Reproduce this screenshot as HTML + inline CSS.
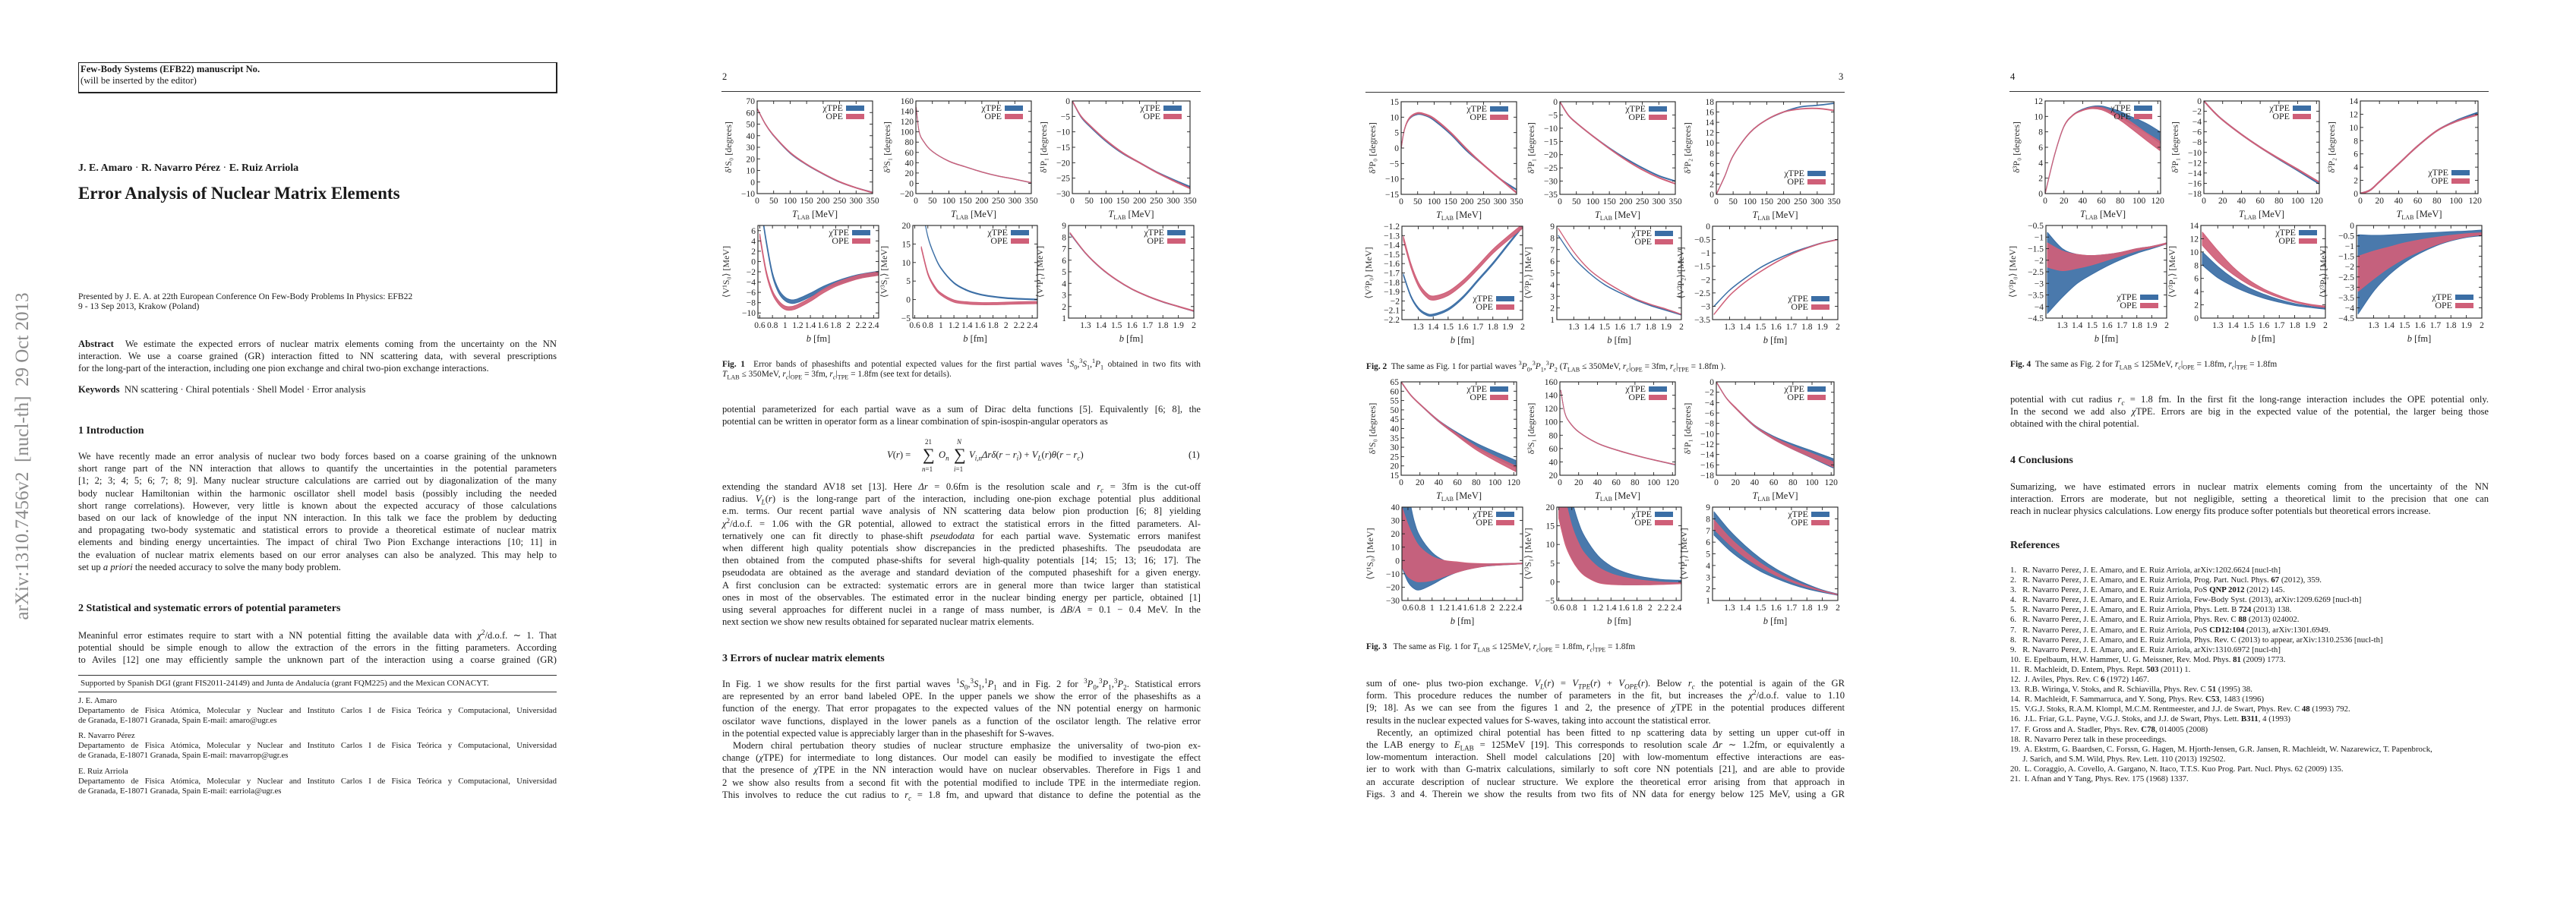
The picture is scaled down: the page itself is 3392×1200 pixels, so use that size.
<!DOCTYPE html>
<html><head><meta charset="utf-8">
<style>
html,body{margin:0;padding:0;background:#fff;}
body{width:3392px;height:1200px;position:relative;overflow:hidden;font-family:"Liberation Serif",serif;color:#1a1a1a;}
sup,sub{line-height:0;font-size:0.72em;}
.p{position:absolute;width:630px;}
.l{height:16.2px;line-height:16.2px;font-size:12.6px;white-space:nowrap;text-align:justify;text-align-last:justify;overflow:visible;}
.l.e{text-align-last:left;}
.l.i{text-indent:14px;}
.s{font-size:10.8px;height:13.1px;line-height:13.1px;}
.h{position:absolute;font-weight:bold;font-size:14px;white-space:nowrap;}
.cap{font-size:11.4px;height:13px;line-height:13px;}
.abs{position:absolute;white-space:nowrap;}
svg{position:absolute;left:0;top:0;}
</style></head>
<body>

<!-- PAGE 1 -->
<div class="abs" style="left:30px;top:601px;transform:translate(-50%,-50%) rotate(-90deg);font-size:25px;color:#8a8a8a;">arXiv:1310.7456v2&nbsp; [nucl-th]&nbsp; 29 Oct 2013</div>
<div style="position:absolute;left:103px;top:82px;width:624px;height:36px;border:1px solid #222;border-right-width:2px;border-bottom-width:2px;padding:1px 2px;font-size:12.6px;line-height:15px;">
<b>Few-Body Systems (EFB22) manuscript No.</b><br>(will be inserted by the editor)</div>
<div class="abs" style="left:103px;top:214px;font-size:14px;font-weight:bold;">J. E. Amaro <span style="font-weight:normal">·</span> R. Navarro Pérez <span style="font-weight:normal">·</span> E. Ruiz Arriola</div>
<div class="abs" style="left:103px;top:242px;font-size:23px;font-weight:bold;">Error Analysis of Nuclear Matrix Elements</div>
<div class="abs" style="left:103px;top:384px;font-size:11.6px;line-height:13px;">Presented by J. E. A. at 22th European Conference On Few-Body Problems In Physics: EFB22<br>9 - 13 Sep 2013, Krakow (Poland)</div>
<div class="p" style="left:103px;top:445px;">
<div class="l"><b>Abstract</b>&nbsp; We estimate the expected errors of nuclear matrix elements coming from the uncertainty on the NN</div>
<div class="l">interaction. We use a coarse grained (GR) interaction fitted to NN scattering data, with several prescriptions</div>
<div class="l e">for the long-part of the interaction, including one pion exchange and chiral two-pion exchange interactions.</div>
</div>
<div class="p" style="left:103px;top:505px;"><div class="l e"><b>Keywords</b>&nbsp; NN scattering · Chiral potentials · Shell Model · Error analysis</div></div>
<div class="h" style="left:103px;top:560px;">1 Introduction</div>
<div class="p" style="left:103px;top:593px;">
<div class="l">We have recently made an error analysis of nuclear two body forces based on a coarse graining of the unknown</div>
<div class="l">short range part of the NN interaction that allows to quantify the uncertainties in the potential parameters</div>
<div class="l">[1; 2; 3; 4; 5; 6; 7; 8; 9]. Many nuclear structure calculations are carried out by diagonalization of the many</div>
<div class="l">body nuclear Hamiltonian within the harmonic oscillator shell model basis (possibly including the needed</div>
<div class="l">short range correlations). However, very little is known about the expected accuracy of those calculations</div>
<div class="l">based on our lack of knowledge of the input NN interaction. In this talk we face the problem by deducting</div>
<div class="l">and propagating two-body systematic and statistical errors to provide a theoretical estimate of nuclear matrix</div>
<div class="l">elements and binding energy uncertainties. The impact of chiral Two Pion Exchange interactions [10; 11] in</div>
<div class="l">the evaluation of nuclear matrix elements based on our error analyses can also be analyzed. This may help to</div>
<div class="l e">set up <i>a priori</i> the needed accuracy to solve the many body problem.</div>
</div>
<div class="h" style="left:103px;top:794px;">2 Statistical and systematic errors of potential parameters</div>
<div class="p" style="left:103px;top:829px;">
<div class="l">Meaninful error estimates require to start with a NN potential fitting the available data with <i>χ</i><sup>2</sup>/d.o.f. ∼ 1. That</div>
<div class="l">potential should be simple enough to allow the extraction of the errors in the fitting parameters. According</div>
<div class="l">to Aviles [12] one may efficiently sample the unknown part of the interaction using a coarse grained (GR)</div>
</div>
<div style="position:absolute;left:103px;top:889px;width:630px;border-top:1px solid #333;"></div>
<div class="abs" style="left:106px;top:894px;font-size:11px;">Supported by Spanish DGI (grant FIS2011-24149) and Junta de Andalucía (grant FQM225) and the Mexican CONACYT.</div>
<div style="position:absolute;left:103px;top:911px;width:630px;border-top:1px solid #333;"></div>
<div class="p" style="left:103px;top:917px;font-size:10.8px;">
<div class="l s e">J. E. Amaro</div>
<div class="l s">Departamento de Fisica Atómica, Molecular y Nuclear and Instituto Carlos I de Fisica Teórica y Computacional, Universidad</div>
<div class="l s e">de Granada, E-18071 Granada, Spain E-mail: amaro@ugr.es</div>
<div style="height:7px"></div>
<div class="l s e">R. Navarro Pérez</div>
<div class="l s">Departamento de Fisica Atómica, Molecular y Nuclear and Instituto Carlos I de Fisica Teórica y Computacional, Universidad</div>
<div class="l s e">de Granada, E-18071 Granada, Spain E-mail: rnavarrop@ugr.es</div>
<div style="height:7px"></div>
<div class="l s e">E. Ruiz Arriola</div>
<div class="l s">Departamento de Fisica Atómica, Molecular y Nuclear and Instituto Carlos I de Fisica Teórica y Computacional, Universidad</div>
<div class="l s e">de Granada, E-18071 Granada, Spain E-mail: earriola@ugr.es</div>
</div>

<!-- PAGE 2 -->
<div class="abs" style="left:951px;top:94px;font-size:12.6px;">2</div>
<div style="position:absolute;left:950px;top:120px;width:631px;border-top:1px solid #333;"></div>
<div class="p" style="left:951px;top:474px;">
<div class="l cap"><b>Fig. 1</b>&nbsp; Error bands of phaseshifts and potential expected values for the first partial waves <sup>1</sup><i>S</i><sub>0</sub>,<sup>3</sup><i>S</i><sub>1</sub>,<sup>1</sup><i>P</i><sub>1</sub> obtained in two fits with</div>
<div class="l cap e"><i>T</i><sub>LAB</sub> ≤ 350MeV, <i>r<sub>c</sub></i>|<sub>OPE</sub> = 3fm, <i>r<sub>c</sub></i>|<sub>TPE</sub> = 1.8fm (see text for details).</div>
</div>
<div class="p" style="left:951px;top:531px;">
<div class="l">potential parameterized for each partial wave as a sum of Dirac delta functions [5]. Equivalently [6; 8], the</div>
<div class="l e">potential can be written in operator form as a linear combination of spin-isospin-angular operators as</div>
</div>
<div class="abs" style="left:1168px;top:577px;font-size:12.6px;height:48px;width:420px;">
<span style="position:absolute;left:0;top:15px;"><i>V</i>(<i>r</i>) =</span>
<span style="position:absolute;left:47px;top:9px;font-size:22px;">∑</span>
<span style="position:absolute;left:50px;top:0;font-size:9px;">21</span>
<span style="position:absolute;left:46px;top:36px;font-size:9px;"><i>n</i>=1</span>
<span style="position:absolute;left:68px;top:15px;"><i>O<sub>n</sub></i></span>
<span style="position:absolute;left:88px;top:9px;font-size:22px;">∑</span>
<span style="position:absolute;left:92px;top:0;font-size:9px;"><i>N</i></span>
<span style="position:absolute;left:88px;top:36px;font-size:9px;"><i>i</i>=1</span>
<span style="position:absolute;left:108px;top:15px;"><i>V<sub>i,n</sub></i><i>Δrδ</i>(<i>r</i> − <i>r<sub>i</sub></i>) + <i>V<sub>L</sub></i>(<i>r</i>)<i>θ</i>(<i>r</i> − <i>r<sub>c</sub></i>)</span>
<span style="position:absolute;left:397px;top:15px;">(1)</span>
</div>
<div class="p" style="left:951px;top:633px;">
<div class="l">extending the standard AV18 set [13]. Here <i>Δr</i> = 0.6fm is the resolution scale and <i>r<sub>c</sub></i> = 3fm is the cut-off</div>
<div class="l">radius. <i>V<sub>L</sub></i>(<i>r</i>) is the long-range part of the interaction, including one-pion exchage potential plus additional</div>
<div class="l">e.m. terms. Our recent partial wave analysis of NN scattering data below pion production [6; 8] yielding</div>
<div class="l"><i>χ</i><sup>2</sup>/d.o.f. = 1.06 with the GR potential, allowed to extract the statistical errors in the fitted parameters. Al-</div>
<div class="l">ternatively one can fit directly to phase-shift <i>pseudodata</i> for each partial wave. Systematic errors manifest</div>
<div class="l">when different high quality potentials show discrepancies in the predicted phaseshifts. The pseudodata are</div>
<div class="l">then obtained from the computed phase-shifts for several high-quality potentials [14; 15; 13; 16; 17]. The</div>
<div class="l">pseudodata are obtained as the average and standard deviation of the computed phaseshift for a given energy.</div>
<div class="l">A first conclusion can be extracted: systematic errors are in general more than twice larger than statistical</div>
<div class="l">ones in most of the observables. The estimated error in the nuclear binding energy per particle, obtained [1]</div>
<div class="l">using several approaches for different nuclei in a range of mass number, is <i>ΔB</i>/<i>A</i> = 0.1 − 0.4 MeV. In the</div>
<div class="l e">next section we show new results obtained for separated nuclear matrix elements.</div>
</div>
<div class="h" style="left:951px;top:860px;">3 Errors of nuclear matrix elements</div>
<div class="p" style="left:951px;top:893px;">
<div class="l">In Fig. 1 we show results for the first partial waves <sup>1</sup><i>S</i><sub>0</sub>,<sup>3</sup><i>S</i><sub>1</sub>,<sup>1</sup><i>P</i><sub>1</sub> and in Fig. 2 for <sup>3</sup><i>P</i><sub>0</sub>,<sup>3</sup><i>P</i><sub>1</sub>,<sup>3</sup><i>P</i><sub>2</sub>. Statistical errors</div>
<div class="l">are represented by an error band labeled OPE. In the upper panels we show the error of the phaseshifts as a</div>
<div class="l">function of the energy. That error propagates to the expected values of the NN potential energy on harmonic</div>
<div class="l">oscilator wave functions, displayed in the lower panels as a function of the oscilator length. The relative error</div>
<div class="l e">in the potential expected value is appreciably larger than in the phaseshift for S-waves.</div>
<div class="l i">Modern chiral pertubation theory studies of nuclear structure emphasize the universality of two-pion ex-</div>
<div class="l">change (<i>χ</i>TPE) for intermediate to long distances. Our model can easily be modified to investigate the effect</div>
<div class="l">that the presence of <i>χ</i>TPE in the NN interaction would have on nuclear observables. Therefore in Figs 1 and</div>
<div class="l">2 we show also results from a second fit with the potential modified to include TPE in the intermediate region.</div>
<div class="l">This involves to reduce the cut radius to <i>r<sub>c</sub></i> = 1.8 fm, and upward that distance to define the potential as the</div>
</div>

<!-- PAGE 3 -->
<div class="abs" style="left:2421px;top:94px;font-size:12.6px;">3</div>
<div style="position:absolute;left:1798px;top:121px;width:631px;border-top:1px solid #333;"></div>
<div class="p" style="left:1799px;top:477px;">
<div class="l cap e"><b>Fig. 2</b>&nbsp; The same as Fig. 1 for partial waves <sup>3</sup><i>P</i><sub>0</sub>,<sup>3</sup><i>P</i><sub>1</sub>,<sup>3</sup><i>P</i><sub>2</sub> (<i>T</i><sub>LAB</sub> ≤ 350MeV, <i>r<sub>c</sub></i>|<sub>OPE</sub> = 3fm, <i>r<sub>c</sub></i>|<sub>TPE</sub> = 1.8fm ).</div>
</div>
<div class="p" style="left:1799px;top:846px;">
<div class="l cap e"><b>Fig. 3</b>&nbsp;&nbsp; The same as Fig. 1 for <i>T</i><sub>LAB</sub> ≤ 125MeV, <i>r<sub>c</sub></i>|<sub>OPE</sub> = 1.8fm, <i>r<sub>c</sub></i>|<sub>TPE</sub> = 1.8fm</div>
</div>
<div class="p" style="left:1799px;top:892px;">
<div class="l">sum of one- plus two-pion exchange. <i>V<sub>L</sub></i>(<i>r</i>) = <i>V<sub>TPE</sub></i>(<i>r</i>) + <i>V<sub>OPE</sub></i>(<i>r</i>). Below <i>r<sub>c</sub></i> the potential is again of the GR</div>
<div class="l">form. This procedure reduces the number of parameters in the fit, but increases the <i>χ</i><sup>2</sup>/d.o.f. value to 1.10</div>
<div class="l">[9; 18]. As we can see from the figures 1 and 2, the presence of <i>χ</i>TPE in the potential produces different</div>
<div class="l e">results in the nuclear expected values for S-waves, taking into account the statistical error.</div>
<div class="l i">Recently, an optimized chiral potential has been fitted to np scattering data by setting un upper cut-off in</div>
<div class="l">the LAB energy to <i>E</i><sub>LAB</sub> = 125MeV [19]. This corresponds to resolution scale <i>Δr</i> ∼ 1.2fm, or equivalently a</div>
<div class="l">low-momentum interaction. Shell model calculations [20] with low-momentum effective interactions are eas-</div>
<div class="l">ier to work with than G-matrix calculations, similarly to soft core NN potentials [21], and are able to provide</div>
<div class="l">an accurate description of nuclear structure. We explore the theoretical error arising from that approach in</div>
<div class="l">Figs. 3 and 4. Therein we show the results from two fits of NN data for energy below 125 MeV, using a GR</div>
</div>

<!-- PAGE 4 -->
<div class="abs" style="left:2647px;top:94px;font-size:12.6px;">4</div>
<div style="position:absolute;left:2646px;top:120px;width:631px;border-top:1px solid #333;"></div>
<div class="p" style="left:2647px;top:474px;">
<div class="l cap e"><b>Fig. 4</b>&nbsp; The same as Fig. 2 for <i>T</i><sub>LAB</sub> ≤ 125MeV, <i>r<sub>c</sub></i>|<sub>OPE</sub> = 1.8fm, <i>r<sub>c</sub></i>|<sub>TPE</sub> = 1.8fm</div>
</div>
<div class="p" style="left:2647px;top:518px;">
<div class="l">potential with cut radius <i>r<sub>c</sub></i> = 1.8 fm. In the first fit the long-range interaction includes the OPE potential only.</div>
<div class="l">In the second we add also <i>χ</i>TPE. Errors are big in the expected value of the potential, the larger being those</div>
<div class="l e">obtained with the chiral potential.</div>
</div>
<div class="h" style="left:2647px;top:599px;">4 Conclusions</div>
<div class="p" style="left:2647px;top:633px;">
<div class="l">Sumarizing, we have estimated errors in nuclear matrix elements coming from the uncertainty of the NN</div>
<div class="l">interaction. Errors are moderate, but not negligible, setting a theoretical limit to the precision that one can</div>
<div class="l e">reach in nuclear physics calculations. Low energy fits produce softer potentials but theoretical errors increase.</div>
</div>
<div class="h" style="left:2647px;top:711px;">References</div>
<div class="p" style="left:2647px;top:745px;font-size:10.8px;">
<div class="l s e">1.&nbsp;&nbsp; R. Navarro Perez, J. E. Amaro, and E. Ruiz Arriola, arXiv:1202.6624 [nucl-th]</div>
<div class="l s e">2.&nbsp;&nbsp; R. Navarro Perez, J. E. Amaro, and E. Ruiz Arriola, Prog. Part. Nucl. Phys. <b>67</b> (2012), 359.</div>
<div class="l s e">3.&nbsp;&nbsp; R. Navarro Perez, J. E. Amaro, and E. Ruiz Arriola, PoS <b>QNP 2012</b> (2012) 145.</div>
<div class="l s e">4.&nbsp;&nbsp; R. Navarro Perez, J. E. Amaro, and E. Ruiz Arriola, Few-Body Syst. (2013), arXiv:1209.6269 [nucl-th]</div>
<div class="l s e">5.&nbsp;&nbsp; R. Navarro Perez, J. E. Amaro, and E. Ruiz Arriola, Phys. Lett. B <b>724</b> (2013) 138.</div>
<div class="l s e">6.&nbsp;&nbsp; R. Navarro Perez, J. E. Amaro, and E. Ruiz Arriola, Phys. Rev. C <b>88</b> (2013) 024002.</div>
<div class="l s e">7.&nbsp;&nbsp; R. Navarro Perez, J. E. Amaro, and E. Ruiz Arriola, PoS <b>CD12:104</b> (2013), arXiv:1301.6949.</div>
<div class="l s e">8.&nbsp;&nbsp; R. Navarro Perez, J. E. Amaro, and E. Ruiz Arriola, Phys. Rev. C (2013) to appear, arXiv:1310.2536 [nucl-th]</div>
<div class="l s e">9.&nbsp;&nbsp; R. Navarro Perez, J. E. Amaro, and E. Ruiz Arriola, arXiv:1310.6972 [nucl-th]</div>
<div class="l s e">10.&nbsp; E. Epelbaum, H.W. Hammer, U. G. Meissner, Rev. Mod. Phys. <b>81</b> (2009) 1773.</div>
<div class="l s e">11.&nbsp; R. Machleidt, D. Entem, Phys. Rept. <b>503</b> (2011) 1.</div>
<div class="l s e">12.&nbsp; J. Aviles, Phys. Rev. C <b>6</b> (1972) 1467.</div>
<div class="l s e">13.&nbsp; R.B. Wiringa, V. Stoks, and R. Schiavilla, Phys. Rev. C <b>51</b> (1995) 38.</div>
<div class="l s e">14.&nbsp; R. Machleidt, F. Sammarruca, and Y. Song, Phys. Rev. <b>C53</b>, 1483 (1996)</div>
<div class="l s e">15.&nbsp; V.G.J. Stoks, R.A.M. Klompl, M.C.M. Rentmeester, and J.J. de Swart, Phys. Rev. C <b>48</b> (1993) 792.</div>
<div class="l s e">16.&nbsp; J.L. Friar, G.L. Payne, V.G.J. Stoks, and J.J. de Swart, Phys. Lett. <b>B311</b>, 4 (1993)</div>
<div class="l s e">17.&nbsp; F. Gross and A. Stadler, Phys. Rev. <b>C78</b>, 014005 (2008)</div>
<div class="l s e">18.&nbsp; R. Navarro Perez talk in these proceedings.</div>
<div class="l s e">19.&nbsp; A. Ekstrm, G. Baardsen, C. Forssn, G. Hagen, M. Hjorth-Jensen, G.R. Jansen, R. Machleidt, W. Nazarewicz, T. Papenbrock,</div>
<div class="l s e">&nbsp;&nbsp;&nbsp;&nbsp;&nbsp; J. Sarich, and S.M. Wild, Phys. Rev. Lett. 110 (2013) 192502.</div>
<div class="l s e">20.&nbsp; L. Coraggio, A. Covello, A. Gargano, N. Itaco, T.T.S. Kuo Prog. Part. Nucl. Phys. 62 (2009) 135.</div>
<div class="l s e">21.&nbsp; I. Afnan and Y Tang, Phys. Rev. 175 (1968) 1337.</div>
</div>

<svg id="charts" width="3392" height="1200" xmlns="http://www.w3.org/2000/svg"></svg>

<script>
// ===== DATA: Fig 1 (T_LAB <= 350 MeV, OPE/TPE) =====
const f1a_T=[1,25,50,100,150,200,250,300,350];
const f1a_tpe=[63,50,40,25,15,7,0,-5,-9];
const f1a_ope=[63,50,40.3,25.5,15.3,7.2,0.2,-5,-9.2];
const f1b_T=[1,10,25,50,100,150,200,250,300,350];
const f1b_tpe=[147,100,80,62,43,32,22,14,8,1];
const f1b_ope=[147,100,80,62,43,32,22,14,8,1.3];
const f1c_T=[0,25,50,100,150,200,250,300,350];
const f1c_tpe=[0,-5,-8,-13,-17,-20,-23,-25.5,-27.8];
const f1c_ope=[0,-4.8,-7.7,-12.7,-16.8,-20,-23.1,-25.8,-28.3];
const f1d_b=[0.6,0.7,0.8,0.9,1.0,1.1,1.2,1.4,1.6,1.8,2.0,2.2,2.5];
const f1d_tpe=[12,4,-2.5,-5.8,-7.3,-7.8,-7.6,-6.5,-5.2,-4.2,-3.4,-2.8,-2.2];
const f1d_ope=[5,-2,-6,-8,-9,-9.1,-8.7,-7.4,-5.8,-4.5,-3.6,-2.9,-2.3];
const f1e_b=[0.7,0.8,0.9,1.0,1.2,1.4,1.6,1.8,2.0,2.2,2.5];
const f1e_tpe=[26,17,12,8.5,4.5,2.5,1.4,0.8,0.4,0.2,0];
const f1e_ope=[14,7,3.5,1.5,-0.4,-0.9,-1.1,-1.1,-1.0,-0.9,-0.8];
const f1f_b=[1.2,1.3,1.4,1.5,1.6,1.7,1.8,1.9,2.0];
const f1f_tpe=[8.3,6.6,5.3,4.3,3.5,2.9,2.4,2.0,1.6];
const f1f_ope=[8.35,6.62,5.32,4.31,3.51,2.9,2.41,2.0,1.62];
// ===== DATA: Fig 2 =====
const f2a_T=[0,10,25,50,75,100,150,200,250,300,350];
const f2a_tpe=[0,6,9.5,11,10.5,9,4.5,-1,-5.5,-10,-13.5];
const f2a_ope=[0,6,9.7,11.3,10.8,9.5,5,-0.5,-5.5,-10,-14.5];
const f2b_T=[0,25,50,100,150,200,250,300,350];
const f2b_tpe=[0,-5,-8,-13,-17.5,-21.5,-25,-28,-30];
const f2b_ope=[0,-5,-8,-13,-17.7,-22,-25.7,-28.7,-31];
const f2c_T=[0,25,50,100,150,200,250,300,350];
const f2c_tpe=[0,3.5,7.5,12,14.5,16,17,17.3,17.7];
const f2c_ope=[0,3.5,7.5,12,14.5,16,16.6,16.7,16.3];
const f2d_b=[1.2,1.25,1.3,1.35,1.4,1.5,1.6,1.7,1.8,1.9,2.0];
const f2d_tpe=[-1.72,-1.95,-2.08,-2.14,-2.15,-2.09,-1.96,-1.78,-1.6,-1.4,-1.2];
const f2d_ope=[-1.33,-1.62,-1.82,-1.93,-1.97,-1.92,-1.8,-1.64,-1.47,-1.33,-1.2];
const f2e_b=[1.2,1.3,1.4,1.5,1.6,1.7,1.8,1.9,2.0];
const f2e_tpe=[8.2,6.3,5.0,4.0,3.3,2.7,2.2,1.8,1.4];
const f2e_ope=[8.8,6.8,5.3,4.3,3.5,2.8,2.3,1.9,1.45];
const f2f_b=[1.2,1.3,1.4,1.5,1.6,1.7,1.8,1.9,2.0];
const f2f_tpe=[-3.0,-2.4,-1.95,-1.55,-1.25,-1.0,-0.8,-0.62,-0.5];
const f2f_ope=[-3.3,-2.6,-2.1,-1.7,-1.35,-1.05,-0.82,-0.63,-0.5];
// ===== DATA: Fig 3 (T_LAB <= 125 MeV) =====
const f3a_T=[0,10,20,40,60,80,100,122];
const f3a_tpe=[65,58,53,44,37,31,26,21];
const f3a_tpeErr=[0.2,0.2,0.2,0.4,0.8,1.2,1.6,2];
const f3a_ope=[65,58,53,44,36.5,29.5,24,18.5];
const f3a_opeErr=[0.2,0.2,0.2,0.3,0.6,0.9,1.2,1.5];
const f3b_T=[1,5,10,20,40,60,80,100,122];
const f3b_tpe=[147,115,100,85,68,58,50,43,36];
const f3b_ope=[147,115,100,85,68,58,50,43,36.3];
const f3c_T=[0,10,20,40,60,80,100,122];
const f3c_tpe=[0,-3,-5,-8.5,-10.8,-12.5,-14,-15.7];
const f3c_tpeErr=[0.05,0.05,0.1,0.15,0.3,0.5,0.7,0.9];
const f3c_ope=[0,-3,-5,-8.5,-10.9,-12.7,-14.2,-15.9];
const f3c_opeErr=[0.05,0.05,0.1,0.1,0.2,0.3,0.4,0.5];
const f3d_b=[0.5,0.6,0.7,0.8,1.0,1.2,1.4,1.6,1.8,2.0,2.5];
const f3d_tpeHi=[60,50,30,18,6,0,-2,-2.5,-2.5,-2.5,-2];
const f3d_tpeLo=[-5,-16,-21,-22,-18,-13,-9,-6.5,-4.8,-3.8,-2.5];
const f3d_opeHi=[40,27,17,10,3,0,-1,-2,-2.3,-2.5,-2];
const f3d_opeLo=[-5,-12,-15,-16,-15,-12,-9,-6.5,-4.8,-3.7,-2.5];
const f3e_b=[0.6,0.7,0.8,0.9,1.0,1.2,1.4,1.6,1.8,2.0,2.2,2.5];
const f3e_tpeHi=[40,30,22,16,12,7,4.2,2.6,1.6,1.0,0.6,0.4];
const f3e_tpeLo=[18,11,6.5,3.5,1.8,0,-0.6,-0.8,-0.8,-0.7,-0.6,-0.4];
const f3e_opeHi=[30,22,15,10.5,7.5,4,2.2,1.2,0.6,0.2,-0.1,-0.3];
const f3e_opeLo=[17,10,6,3.3,1.6,-0.2,-0.7,-0.8,-0.8,-0.8,-0.7,-0.5];
const f3f_b=[1.2,1.3,1.4,1.5,1.6,1.7,1.8,1.9,2.0];
const f3f_tpeHi=[8.6,7.0,5.7,4.6,3.7,3.0,2.4,1.9,1.55];
const f3f_tpeLo=[6.6,5.3,4.3,3.5,2.9,2.4,2.0,1.7,1.45];
const f3f_opeHi=[7.9,6.4,5.2,4.2,3.4,2.75,2.25,1.85,1.52];
const f3f_opeLo=[7.1,5.8,4.7,3.85,3.15,2.6,2.15,1.78,1.48];
// ===== DATA: Fig 4 =====
const f4a_T=[0,10,20,30,40,50,60,70,80,90,100,110,122];
const f4a_tpe=[0,5,8.7,10.2,10.9,11.2,11.2,10.8,10.3,9.6,9.0,8.3,7.3];
const f4a_tpeErr=[0.05,0.05,0.05,0.05,0.05,0.1,0.15,0.25,0.35,0.45,0.55,0.65,0.75];
const f4a_ope=[0,5,8.7,10.2,10.8,11.1,11.0,10.5,9.8,9.0,8.1,7.2,6.2];
const f4a_opeErr=[0.05,0.05,0.05,0.05,0.05,0.1,0.15,0.2,0.3,0.4,0.45,0.5,0.6];
const f4b_T=[0,10,20,40,60,80,100,122];
const f4b_tpe=[0,-2,-3.7,-6.5,-9,-11.3,-13.5,-16];
const f4b_ope=[0,-2,-3.7,-6.5,-9,-11.2,-13.3,-15.7];
const f4c_T=[0,10,20,40,60,80,100,122];
const f4c_tpe=[0,0.5,1.8,4.5,7.2,9.5,11,12.2];
const f4c_ope=[0,0.5,1.8,4.5,7.2,9.5,10.9,11.9];
const f4d_b=[1.2,1.3,1.4,1.5,1.6,1.7,1.8,1.9,2.0];
const f4d_tpeHi=[-0.8,-1.5,-1.75,-1.8,-1.75,-1.65,-1.5,-1.4,-1.25];
const f4d_tpeLo=[-4.3,-3.6,-3.0,-2.6,-2.25,-1.95,-1.7,-1.5,-1.3];
const f4d_opeHi=[-1.25,-1.6,-1.75,-1.8,-1.75,-1.65,-1.5,-1.4,-1.25];
const f4d_opeLo=[-2.3,-2.45,-2.35,-2.2,-2.0,-1.8,-1.6,-1.45,-1.3];
const f4e_b=[1.2,1.3,1.4,1.5,1.6,1.7,1.8,1.9,2.0];
const f4e_tpeHi=[10,7.8,6.0,4.6,3.6,2.8,2.2,1.8,1.5];
const f4e_tpeLo=[8,6.1,4.8,3.8,3.0,2.4,1.9,1.6,1.35];
const f4e_opeHi=[13,10.2,7.7,5.8,4.4,3.4,2.6,2.1,1.8];
const f4e_opeLo=[11,8.5,6.6,5.1,4.0,3.1,2.4,1.9,1.6];
const f4f_b=[1.2,1.3,1.4,1.5,1.6,1.7,1.8,1.9,2.0];
const f4f_tpeHi=[-0.45,-0.48,-0.46,-0.42,-0.38,-0.34,-0.3,-0.27,-0.22];
const f4f_tpeLo=[-4.3,-3.2,-2.4,-1.8,-1.35,-1.0,-0.75,-0.58,-0.5];
const f4f_opeHi=[-1.5,-1.25,-1.05,-0.85,-0.7,-0.58,-0.48,-0.4,-0.35];
const f4f_opeLo=[-3.2,-2.6,-2.05,-1.6,-1.25,-0.95,-0.72,-0.55,-0.45];
// ===== tick labels =====
const ticksT350=[0,50,100,150,200,250,300,350];
const ticksT120=[0,20,40,60,80,100,120];
const ticksBwide=[0.6,0.8,1,1.2,1.4,1.6,1.8,2,2.2,2.4];
const ticksBnarrow=[1.3,1.4,1.5,1.6,1.7,1.8,1.9,2];
const yt_f1a=[-10,0,10,20,30,40,50,60,70];
const yt_f1b=[-20,0,20,40,60,80,100,120,140,160];
const yt_f1c=[-30,-25,-20,-15,-10,-5,0];
const yt_f1d=[-10,-8,-6,-4,-2,0,2,4,6];
const yt_f1e=[-5,0,5,10,15,20];
const yt_f1f=[1,2,3,4,5,6,7,8,9];
const yt_f2a=[-15,-10,-5,0,5,10,15];
const yt_f2b=[-35,-30,-25,-20,-15,-10,-5,0];
const yt_f2c=[0,2,4,6,8,10,12,14,16,18];
const yt_f2d=[-2.2,-2.1,-2,-1.9,-1.8,-1.7,-1.6,-1.5,-1.4,-1.3,-1.2];
const yt_f2e=[1,2,3,4,5,6,7,8,9];
const yt_f2f=[-3.5,-3,-2.5,-2,-1.5,-1,-0.5,0];
const yt_f3a=[15,20,25,30,35,40,45,50,55,60,65];
const yt_f3b=[20,40,60,80,100,120,140,160];
const yt_f3c=[-18,-16,-14,-12,-10,-8,-6,-4,-2,0];
const yt_f3d=[-30,-20,-10,0,10,20,30,40];
const yt_f3e=[-5,0,5,10,15,20];
const yt_f3f=[1,2,3,4,5,6,7,8,9];
const yt_f4a=[0,2,4,6,8,10,12];
const yt_f4b=[-18,-16,-14,-12,-10,-8,-6,-4,-2,0];
const yt_f4c=[0,2,4,6,8,10,12,14];
const yt_f4d=[-4.5,-4,-3.5,-3,-2.5,-2,-1.5,-1,-0.5];
const yt_f4e=[0,2,4,6,8,10,12,14];
const yt_f4f=[-4.5,-4,-3.5,-3,-2.5,-2,-1.5,-1,-0.5,0];

const NS='http://www.w3.org/2000/svg';
const svg=document.getElementById('charts');
const BLUE='#3b6ea5', RED='#cf5f78';
function mk(tag,attrs,parent){const e=document.createElementNS(NS,tag);for(const k in attrs)e.setAttribute(k,attrs[k]);(parent||svg).appendChild(e);return e;}
function fromErr(v,e){return {hi:v.map((a,i)=>a+(Array.isArray(e)?e[i]:e)),lo:v.map((a,i)=>a-(Array.isArray(e)?e[i]:e))};}
function smooth(pts,start){
  let d=start?('M'+pts[0][0].toFixed(2)+' '+pts[0][1].toFixed(2)):('L'+pts[0][0].toFixed(2)+' '+pts[0][1].toFixed(2));
  for(let i=0;i<pts.length-1;i++){
    const p0=pts[Math.max(0,i-1)],p1=pts[i],p2=pts[i+1],p3=pts[Math.min(pts.length-1,i+2)];
    const c1=[p1[0]+(p2[0]-p0[0])/6,p1[1]+(p2[1]-p0[1])/6];
    const c2=[p2[0]-(p3[0]-p1[0])/6,p2[1]-(p3[1]-p1[1])/6];
    d+=' C'+c1[0].toFixed(2)+' '+c1[1].toFixed(2)+' '+c2[0].toFixed(2)+' '+c2[1].toFixed(2)+' '+p2[0].toFixed(2)+' '+p2[1].toFixed(2);
  }
  return d;
}
let clipId=0;
function fmt(v){return (v<0?'−':'')+String(Math.abs(Math.round(v*100)/100));}
function panel(cfg){
  const [L,R]=cfg.xr,[T,B]=cfg.yr;
  const sx=v=>L+(v-cfg.xd[0])/(cfg.xd[1]-cfg.xd[0])*(R-L);
  const sy=v=>B-(v-cfg.yd[0])/(cfg.yd[1]-cfg.yd[0])*(B-T);
  const g=mk('g',{});
  
  
  const cid='clip'+(clipId++);
  const cp=mk('clipPath',{id:cid},g);mk('rect',{x:L,y:T,width:R-L,height:B-T},cp);
  const bands=mk('g',{'clip-path':'url(#'+cid+')'},g);
  cfg.series.forEach(s=>{
    const hi=cfg.x.map((x,i)=>[sx(x),sy(s.hi[i])]);
    const lo=cfg.x.map((x,i)=>[sx(x),sy(s.lo[i])]).reverse();
    const p=mk('path',{d:smooth(hi,true)+' '+smooth(lo,false)+' Z',fill:s.c,stroke:s.c,'stroke-width':1,'fill-opacity':0.92,'stroke-linejoin':'round'},bands);
    
    
  });
  const fr=mk('rect',{x:L,y:T,width:R-L,height:B-T,fill:'none',stroke:'#222','stroke-width':1.1},g);
  
  
  cfg.xt.forEach(v=>{
    const x=sx(v);
    mk('line',{x1:x,x2:x,y1:B,y2:B-4,stroke:'#222','stroke-width':0.9},g);
    mk('line',{x1:x,x2:x,y1:T,y2:T+4,stroke:'#222','stroke-width':0.9},g);
    const t=mk('text',{x:x,y:B+13,'text-anchor':'middle','font-size':11.5,'font-family':'Liberation Serif, serif',fill:'#222'},g);
    t.textContent=fmt(v);
    
    
  });
  cfg.yt.forEach(v=>{
    const y=sy(v);
    mk('line',{x1:L,x2:L+4,y1:y,y2:y,stroke:'#222','stroke-width':0.9},g);
    mk('line',{x1:R,x2:R-4,y1:y,y2:y,stroke:'#222','stroke-width':0.9},g);
    const t=mk('text',{x:L-3,y:y+4,'text-anchor':'end','font-size':11.5,'font-family':'Liberation Serif, serif',fill:'#222'},g);
    t.textContent=fmt(v);
    
    
  });
  const xt=mk('text',{x:(L+R)/2,y:B+31,'text-anchor':'middle','font-size':12.5,'font-family':'Liberation Serif, serif',fill:'#222'},g);
  xt.innerHTML=cfg.xlab;
  
  
  const cy=(T+B)/2, cx=L-cfg.ylOff;
  const yt=mk('text',{x:cx,y:cy,'text-anchor':'middle','font-size':12,'font-family':'Liberation Serif, serif',fill:'#333',transform:'rotate(-90 '+cx+' '+cy+')'},g);
  yt.textContent=cfg.ylab;
  
  
  const ly=cfg.legBottom?B-28:T+9;
  [['χTPE',BLUE,0],['OPE',RED,11]].forEach(([lab,c,dy])=>{
    const lg=mk('g',{},g);
    
    
    const t=mk('text',{x:R-39,y:ly+dy+4,'text-anchor':'end','font-size':12,'font-family':'Liberation Serif, serif',fill:'#222'},lg);
    t.textContent=lab;
    mk('rect',{x:R-35,y:ly+dy-3,width:24,height:7,fill:c},lg);
  });
}
const TX='<tspan font-style="italic">T</tspan><tspan font-size="8" dy="3">LAB</tspan><tspan dy="-3"> [MeV]</tspan>';
const BX='<tspan font-style="italic">b</tspan> [fm]';
const topX=[[47,199],[256,408],[462,617]], botX=[[48,207],[252,416],[457,622]];
function row(fig,off,yr,defs,isTop){
  defs.forEach((d,i)=>{
    const xr=(isTop?topX:botX)[i].map(v=>v+off);
    const series=[{n:'tpe-band',c:BLUE,hi:d.t.hi,lo:d.t.lo},{n:'ope-band',c:RED,hi:d.o.hi,lo:d.o.lo}];
    panel({name:fig+'-panel-'+(isTop?'top-':'bottom-')+(i+1),xr:xr,yr:yr,xd:d.xd,yd:d.yd,x:d.x,xt:d.xt,yt:d.yt,
      xlab:isTop?TX:BX,ylab:d.yl,ylOff:d.yo||34,legBottom:!!d.lb,series:series});
  });
}
const e1=0.35;
row('fig1',950,[133,255],[
 {x:f1a_T,t:fromErr(f1a_tpe,0.3),o:fromErr(f1a_ope,0.3),xd:[0,350],yd:[-10,70],xt:ticksT350,yt:yt_f1a,yl:'δ¹S₀  [degrees]'},
 {x:f1b_T,t:fromErr(f1b_tpe,0.3),o:fromErr(f1b_ope,0.3),xd:[0,350],yd:[-20,160],xt:ticksT350,yt:yt_f1b,yl:'δ³S₁  [degrees]'},
 {x:f1c_T,t:fromErr(f1c_tpe,0.15),o:fromErr(f1c_ope,0.15),xd:[0,350],yd:[-30,0],xt:ticksT350,yt:yt_f1c,yl:'δ¹P₁  [degrees]'}],true);
row('fig1',950,[297,419],[
 {x:f1d_b,t:fromErr(f1d_tpe,e1),o:fromErr(f1d_ope,e1),xd:[0.57,2.48],yd:[-11,7],xt:ticksBwide,yt:yt_f1d,yl:'⟨V¹S₀⟩  [MeV]',yo:38},
 {x:f1e_b,t:fromErr(f1e_tpe,0.12),o:fromErr(f1e_ope,0.3),xd:[0.57,2.48],yd:[-5,20],xt:ticksBwide,yt:yt_f1e,yl:'⟨V³S₁⟩  [MeV]'},
 {x:f1f_b,t:fromErr(f1f_tpe,0.03),o:fromErr(f1f_ope,0.03),xd:[1.19,2.0],yd:[1,9],xt:ticksBnarrow,yt:yt_f1f,yl:'⟨V¹P₁⟩  [MeV]'}],false);
row('fig2',1798,[134,256],[
 {x:f2a_T,t:fromErr(f2a_tpe,0.15),o:fromErr(f2a_ope,0.2),xd:[0,350],yd:[-15,15],xt:ticksT350,yt:yt_f2a,yl:'δ³P₀  [degrees]'},
 {x:f2b_T,t:fromErr(f2b_tpe,0.15),o:fromErr(f2b_ope,0.15),xd:[0,350],yd:[-35,0],xt:ticksT350,yt:yt_f2b,yl:'δ³P₁  [degrees]'},
 {x:f2c_T,t:fromErr(f2c_tpe,0.06),o:fromErr(f2c_ope,0.06),xd:[0,350],yd:[0,18],xt:ticksT350,yt:yt_f2c,yl:'δ³P₂  [degrees]',lb:1}],true);
row('fig2',1798,[298,421],[
 {x:f2d_b,t:fromErr(f2d_tpe,0.01),o:fromErr(f2d_ope,0.022),xd:[1.19,2.0],yd:[-2.2,-1.2],xt:ticksBnarrow,yt:yt_f2d,yl:'⟨V³P₀⟩  [MeV]',yo:40,lb:1},
 {x:f2e_b,t:fromErr(f2e_tpe,0.02),o:fromErr(f2e_ope,0.02),xd:[1.19,2.0],yd:[1,9],xt:ticksBnarrow,yt:yt_f2e,yl:'⟨V³P₁⟩  [MeV]'},
 {x:f2f_b,t:fromErr(f2f_tpe,0.01),o:fromErr(f2f_ope,0.01),xd:[1.19,2.0],yd:[-3.5,0],xt:ticksBnarrow,yt:yt_f2f,yl:'⟨V³P₂⟩  [MeV]',yo:38,lb:1}],false);
row('fig3',1798,[503,626],[
 {x:f3a_T,t:fromErr(f3a_tpe,f3a_tpeErr),o:fromErr(f3a_ope,f3a_opeErr),xd:[0,123],yd:[15,65],xt:ticksT120,yt:yt_f3a,yl:'δ¹S₀  [degrees]'},
 {x:f3b_T,t:fromErr(f3b_tpe,0.3),o:fromErr(f3b_ope,0.3),xd:[0,123],yd:[20,160],xt:ticksT120,yt:yt_f3b,yl:'δ³S₁  [degrees]'},
 {x:f3c_T,t:fromErr(f3c_tpe,f3c_tpeErr),o:fromErr(f3c_ope,f3c_opeErr),xd:[0,123],yd:[-18,0],xt:ticksT120,yt:yt_f3c,yl:'δ¹P₁  [degrees]'}],true);
row('fig3',1798,[668,791],[
 {x:f3d_b,t:{hi:f3d_tpeHi,lo:f3d_tpeLo},o:{hi:f3d_opeHi,lo:f3d_opeLo},xd:[0.5,2.5],yd:[-30,40],xt:ticksBwide,yt:yt_f3d,yl:'⟨V¹S₀⟩  [MeV]',yo:38},
 {x:f3e_b,t:{hi:f3e_tpeHi,lo:f3e_tpeLo},o:{hi:f3e_opeHi,lo:f3e_opeLo},xd:[0.57,2.48],yd:[-5,20],xt:ticksBwide,yt:yt_f3e,yl:'⟨V³S₁⟩  [MeV]'},
 {x:f3f_b,t:{hi:f3f_tpeHi,lo:f3f_tpeLo},o:{hi:f3f_opeHi,lo:f3f_opeLo},xd:[1.19,2.0],yd:[1,9],xt:ticksBnarrow,yt:yt_f3f,yl:'⟨V¹P₁⟩  [MeV]'}],false);
row('fig4',2646,[133,255],[
 {x:f4a_T,t:fromErr(f4a_tpe,f4a_tpeErr),o:fromErr(f4a_ope,f4a_opeErr),xd:[0,123],yd:[0,12],xt:ticksT120,yt:yt_f4a,yl:'δ³P₀  [degrees]'},
 {x:f4b_T,t:fromErr(f4b_tpe,0.1),o:fromErr(f4b_ope,0.1),xd:[0,123],yd:[-18,0],xt:ticksT120,yt:yt_f4b,yl:'δ³P₁  [degrees]'},
 {x:f4c_T,t:fromErr(f4c_tpe,0.08),o:fromErr(f4c_ope,0.08),xd:[0,123],yd:[0,14],xt:ticksT120,yt:yt_f4c,yl:'δ³P₂  [degrees]',lb:1}],true);
row('fig4',2646,[297,419],[
 {x:f4d_b,t:{hi:f4d_tpeHi,lo:f4d_tpeLo},o:{hi:f4d_opeHi,lo:f4d_opeLo},xd:[1.19,2.0],yd:[-4.5,-0.5],xt:ticksBnarrow,yt:yt_f4d,yl:'⟨V³P₀⟩  [MeV]',yo:40,lb:1},
 {x:f4e_b,t:{hi:f4e_tpeHi,lo:f4e_tpeLo},o:{hi:f4e_opeHi,lo:f4e_opeLo},xd:[1.19,2.0],yd:[0,14],xt:ticksBnarrow,yt:yt_f4e,yl:'⟨V³P₁⟩  [MeV]'},
 {x:f4f_b,t:{hi:f4f_tpeHi,lo:f4f_tpeLo},o:{hi:f4f_opeHi,lo:f4f_opeLo},xd:[1.19,2.0],yd:[-4.5,0],xt:ticksBnarrow,yt:yt_f4f,yl:'⟨V³P₂⟩  [MeV]',yo:40,lb:1}],false);
</script>
</body></html>
